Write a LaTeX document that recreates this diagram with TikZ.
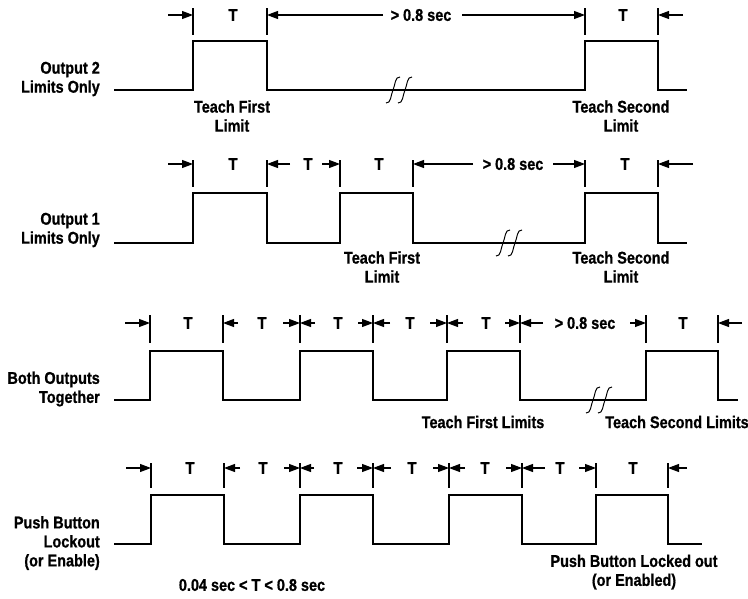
\documentclass[tikz,border=0pt]{standalone}
\usepackage{fontspec}
\setmainfont{Liberation Sans}[FakeStretch=0.85,BoldFont=Liberation Sans Bold,BoldFeatures={FakeStretch=0.85,FakeBold=0.8}]
\usetikzlibrary{arrows.meta}
\newcommand{\lbf}{\fontsize{17}{19}\selectfont\bfseries}
\newcommand{\darr}[4]{\coordinate (#1s) at (#2,#4); \coordinate (#1e) at (#3,#4); \draw[dimarrow] (#1s) -- (#1e);}
\newcommand{\brk}[3]{%
  \coordinate (#1a) at (#2-6,#3); \coordinate (#1b) at (#2+6,#3);
  \foreach \p in {#1a,#1b}{\draw[brkline] ([shift={(-7,13)}]\p) .. controls ([shift={(-2,14)}]\p) and ([shift={(-2,4)}]\p) .. (\p) .. controls ([shift={(2,-4)}]\p) and ([shift={(2,-14)}]\p) .. ([shift={(7,-13)}]\p);}}
\begin{document}
\begin{tikzpicture}[x=1pt,y=-1pt,
  wave/.style={line width=1.8pt,line join=miter},
  tickline/.style={line width=1.1pt},
  dimarrow/.style={line width=1.1pt,-{Triangle[length=11pt,width=8pt]}},
  brkline/.style={line width=1pt},
  lbl/.style={font=\lbf,inner sep=0pt,align=center},
  side/.style={font=\lbf,inner sep=0pt,align=right,anchor=east}]
\useasboundingbox (0,0) rectangle (748,598);

% ---------- Waveform 1 ----------
\node[side] (l1) at (100,79) {Output 2\\Limits Only};
\draw[wave] (114,90) -- (193,90) |- (267,41) -- (267,90) -- (585,90) |- (658,41) -- (658,90) -- (687,90);
\brk{b1}{399}{90}
\foreach \x in {193,267,585,658} \draw[tickline] (\x,8) -- (\x,35);
\darr{w1a}{168}{193}{15}
\darr{w1b}{383}{267}{15}
\darr{w1c}{462}{585}{15}
\darr{w1d}{683}{658}{15}
\node[lbl] (t11) at (233,15) {T};
\node[lbl] (t12) at (421,15) {> 0.8 sec};
\node[lbl] (t13) at (623,15) {T};
\node[lbl] (n11) at (232,116) {Teach First\\Limit};
\node[lbl] (n12) at (621,116) {Teach Second\\Limit};

% ---------- Waveform 2 ----------
\node[side] (l2) at (100,230) {Output 1\\Limits Only};
\draw[wave] (114,243) -- (193,243) |- (267,193) -- (267,243) -- (340,243) |- (413,193) -- (413,243) -- (585,243) |- (658,193) -- (658,243) -- (687,243);
\brk{b2}{509}{243}
\foreach \x in {193,267,340,413,585,658} \draw[tickline] (\x,160) -- (\x,187);
\darr{w2a}{168}{193}{164}
\darr{w2b}{290}{267}{164}
\darr{w2c}{322}{340}{164}
\darr{w2d}{473}{413}{164}
\darr{w2e}{553}{585}{164}
\darr{w2f}{693}{658}{164}
\node[lbl] (t21) at (233,164) {T};
\node[lbl] (t22) at (308,164) {T};
\node[lbl] (t23) at (379,164) {T};
\node[lbl] (t24) at (513,164) {> 0.8 sec};
\node[lbl] (t25) at (625,164) {T};
\node[lbl] (n21) at (382,267) {Teach First\\Limit};
\node[lbl] (n22) at (621,267) {Teach Second\\Limit};

% ---------- Waveform 3 ----------
\node[side] (l3) at (100,389) {Both Outputs\\Together};
\draw[wave] (114,400) -- (150,400) |- (223,351) -- (223,400) -- (300,400) |- (373,351) -- (373,400) -- (447,400) |- (520,351) -- (520,400) -- (646,400) |- (718,351) -- (718,400) -- (738,400);
\brk{b3}{599}{400}
\foreach \x in {150,223,300,373,447,520,646,718} \draw[tickline] (\x,315) -- (\x,343);
\darr{w3a}{125}{150}{323}
\darr{w3b}{238}{223}{323}
\darr{w3c}{283}{300}{323}
\darr{w3d}{315}{300}{323}
\darr{w3e}{358}{373}{323}
\darr{w3f}{390}{373}{323}
\darr{w3g}{430}{447}{323}
\darr{w3h}{463}{447}{323}
\darr{w3i}{505}{520}{323}
\darr{w3j}{543}{520}{323}
\darr{w3k}{630}{646}{323}
\darr{w3l}{742}{718}{323}
\node[lbl] (t31) at (188,323) {T};
\node[lbl] (t32) at (262,323) {T};
\node[lbl] (t33) at (338,323) {T};
\node[lbl] (t34) at (410,323) {T};
\node[lbl] (t35) at (486,323) {T};
\node[lbl] (t36) at (585,323) {> 0.8 sec};
\node[lbl] (t37) at (683,323) {T};
\node[lbl] (n31) at (483,422) {Teach First Limits};
\node[lbl] (n32) at (677,422) {Teach Second Limits};

% ---------- Waveform 4 ----------
\node[side] (l4) at (100,543) {Push Button\\Lockout\\(or Enable)};
\draw[wave] (114,544) -- (151,544) |- (224,495) -- (224,544) -- (300,544) |- (373,495) -- (373,544) -- (449,544) |- (522,495) -- (522,544) -- (596,544) |- (668,495) -- (668,544) -- (702,544);
\foreach \x in {151,224,300,373,449,522,596,668} \draw[tickline] (\x,463) -- (\x,488);
\darr{w4a}{126}{151}{468}
\darr{w4b}{240}{224}{468}
\darr{w4c}{284}{300}{468}
\darr{w4d}{314}{300}{468}
\darr{w4e}{357}{373}{468}
\darr{w4f}{391}{373}{468}
\darr{w4g}{433}{449}{468}
\darr{w4h}{465}{449}{468}
\darr{w4i}{506}{522}{468}
\darr{w4j}{545}{522}{468}
\darr{w4k}{579}{596}{468}
\darr{w4l}{687}{668}{468}
\node[lbl] (t41) at (190,468) {T};
\node[lbl] (t42) at (263,468) {T};
\node[lbl] (t43) at (338,468) {T};
\node[lbl] (t44) at (412,468) {T};
\node[lbl] (t45) at (485,468) {T};
\node[lbl] (t46) at (560,468) {T};
\node[lbl] (t47) at (633,468) {T};
\node[lbl] (n41) at (634,572) {Push Button Locked out\\(or Enabled)};
\node[lbl] (n42) at (252,585) {0.04 sec < T < 0.8 sec};
\end{tikzpicture}
\end{document}
